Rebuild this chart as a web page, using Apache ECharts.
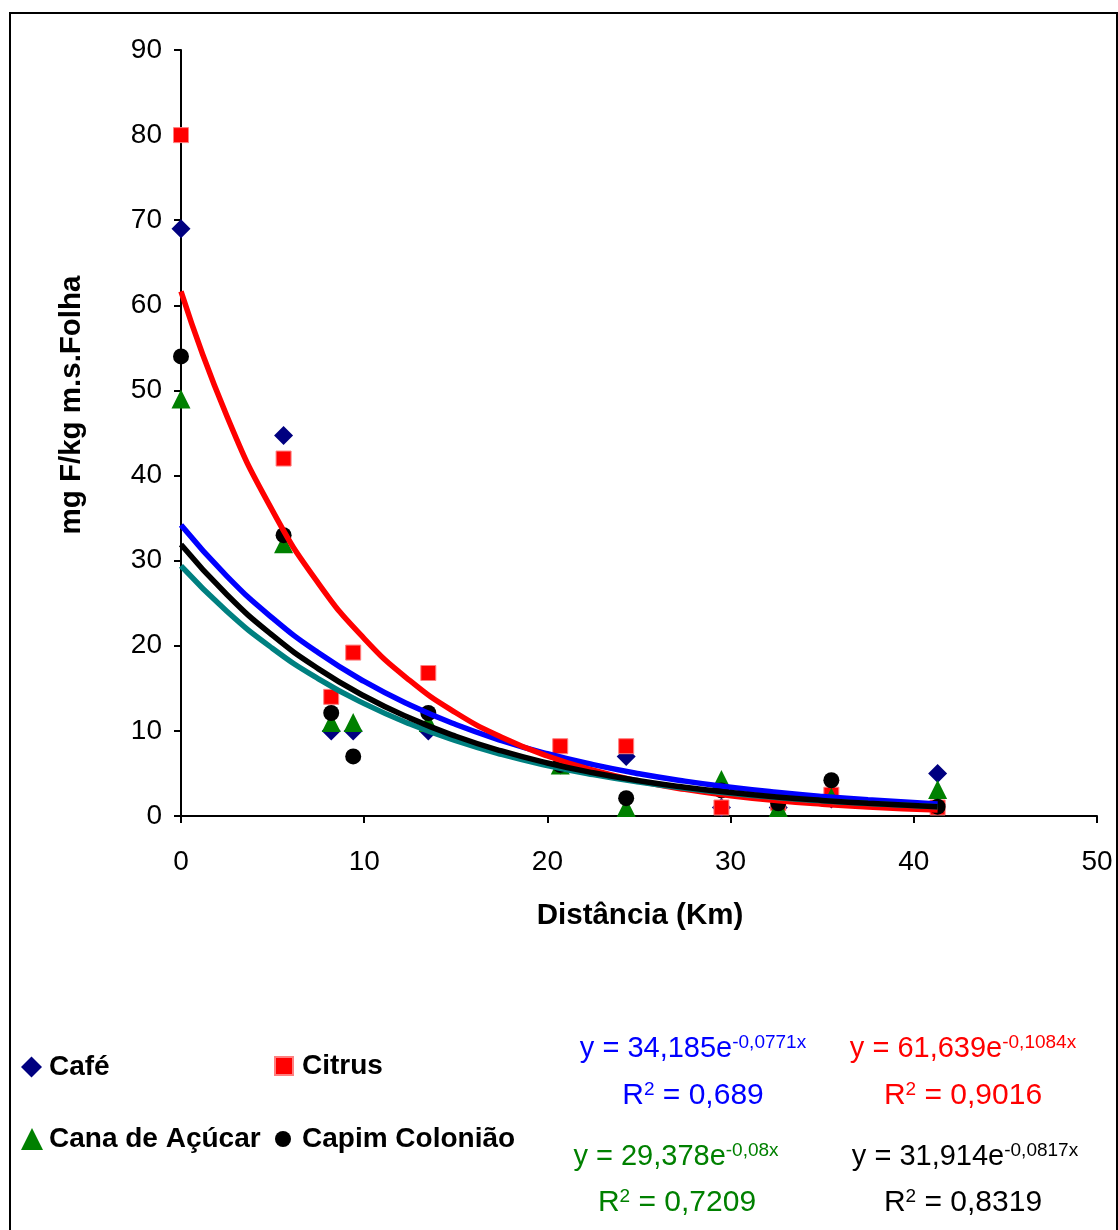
<!DOCTYPE html>
<html>
<head>
<meta charset="utf-8">
<script src="https://cdn.jsdelivr.net/npm/echarts@6/dist/echarts.min.js"></script>
<style>
html,body{margin:0;padding:0;background:#fff;}
#chart{width:1118px;height:1230px;}
</style>
</head>
<body>
<div id="chart"></div>
<script>
// ---- Data ----
const distX = [0, 5.6, 8.2, 9.4, 13.5, 20.7, 24.3, 29.5, 32.6, 35.5, 41.3];
const cafeY   = [69, 44.7, 10, 10, 10, 6, 7, 1, 1, 2, 5];
const citrusY = [80, 42, 14, 19.2, 16.8, 8.2, 8.2, 1, 1.5, 2.5, 1];
const canaY   = [49, 32, 11, 11, 11, 6, 1, 4.3, 1, 2.2, 3.1];
const capimY  = [54, 33, 12.1, 7, 12.1, 6, 2.1, 3, 1.5, 4.2, 1.1];

// trend lines
const trendX = [0, 2.5, 5, 7.5, 10, 12.5, 15, 17.5, 20, 22.5, 25, 27.5, 30, 32.5, 35, 37.5, 41.3];
const cafeTrend   = [34.19, 28.19, 23.25, 19.17, 15.81, 13.04, 10.75, 8.87, 7.31, 6.03, 4.97, 4.10, 3.38, 2.79, 2.30, 1.90, 1.42];
const citrusTrend = [61.64, 47.01, 35.85, 27.34, 20.85, 15.90, 12.13, 9.25, 7.05, 5.38, 4.10, 3.13, 2.39, 1.82, 1.39, 1.06, 0.70];
const canaTrend   = [29.38, 24.05, 19.69, 16.12, 13.20, 10.81, 8.85, 7.24, 5.93, 4.86, 3.98, 3.26, 2.66, 2.18, 1.79, 1.46, 1.08];
const capimTrend  = [31.91, 26.02, 21.21, 17.29, 14.10, 11.50, 9.37, 7.64, 6.23, 5.08, 4.14, 3.38, 2.75, 2.24, 1.83, 1.49, 1.09];

const seriesNames = ['Café', 'Citrus', 'Cana de Açúcar', 'Capim Colonião'];
const xTitle = 'Distância (Km)';
const yTitle = 'mg F/kg m.s.Folha';

const FONT = 'Arial, "Liberation Sans", sans-serif';

function pairs(xs, ys){ return xs.map((x,i)=>[x, ys[i]]); }

const chart = echarts.init(document.getElementById('chart'), null, {renderer:'canvas'});

function lineSeries(name, data, color){
  return {
    name: name, type: 'line', data: pairs(trendX, data),
    smooth: true, showSymbol: false, symbol: 'none',
    lineStyle: {color: color, width: 5.5},
    silent: true
  };
}
function scatterSeries(name, data, symbol, size, color, border){
  return {
    name: name, type: 'scatter', data: pairs(distX, data),
    symbol: symbol, symbolSize: size,
    itemStyle: {color: color, borderColor: border || color, borderWidth: border ? 1 : 0, opacity: 1}
  };
}

function legendItem(name, left, top, size, padLeft){
  return {
    data: [name], left: left, top: top,
    orient: 'horizontal', padding: 0, itemGap: 0, selectedMode: false,
    itemWidth: size, itemHeight: size,
    textStyle: {fontSize: 28, fontWeight: 'bold', color: '#000', fontFamily: FONT, padding: [0, 0, 0, padLeft]}
  };
}

function eqText(x, y, color, main, sup){
  return {
    type: 'text', x: x, y: y,
    style: {
      text: '{m|' + main + '}{s|' + sup + '}',
      align: 'center', verticalAlign: 'middle',
      rich: {
        m: {fontSize: 29, fontFamily: FONT, fill: color, lineHeight: 32},
        s: {fontSize: 19, fontFamily: FONT, fill: color, verticalAlign: 'top', lineHeight: 18}
      }
    }
  };
}
function r2Text(x, y, color, val){
  return {
    type: 'text', x: x, y: y,
    style: {
      text: '{m|R}{s|2}{m| = ' + val + '}',
      align: 'center', verticalAlign: 'middle',
      rich: {
        m: {fontSize: 30, fontFamily: FONT, fill: color, lineHeight: 32},
        s: {fontSize: 19, fontFamily: FONT, fill: color, verticalAlign: 'top', lineHeight: 16}
      }
    }
  };
}

const option = {
  animation: false,
  backgroundColor: '#fff',
  grid: {left: 181, right: 21, top: 50, bottom: 414, containLabel: false},
  xAxis: {
    type: 'value', min: 0, max: 50, interval: 10,
    axisLine: {show: true, onZero: false, lineStyle: {color: '#000', width: 2}},
    axisTick: {show: true, length: 7, lineStyle: {color: '#000', width: 2}},
    axisLabel: {fontSize: 28, color: '#000', fontFamily: FONT, margin: 32},
    splitLine: {show: false}
  },
  yAxis: {
    type: 'value', min: 0, max: 90, interval: 10,
    axisLine: {show: true, onZero: false, lineStyle: {color: '#000', width: 2}},
    axisTick: {show: true, length: 7, lineStyle: {color: '#000', width: 2}},
    axisLabel: {fontSize: 28, color: '#000', fontFamily: FONT, margin: 19},
    splitLine: {show: false}
  },
  legend: [
    legendItem(seriesNames[0], 21, 1053, 21, 2),
    legendItem(seriesNames[1], 274, 1052, 18, 4),
    legendItem(seriesNames[2], 21, 1125, 22, 1),
    legendItem(seriesNames[3], 275, 1125, 16, 6)
  ],
  series: [
    lineSeries('Café trend', cafeTrend, '#0000FF'),
    scatterSeries(seriesNames[0], cafeY, 'diamond', 19, '#000080'),
    lineSeries('Citrus trend', citrusTrend, '#FF0000'),
    scatterSeries(seriesNames[1], citrusY, 'rect', 15, '#FF0000', '#FF8080'),
    lineSeries('Cana trend', canaTrend, '#008080'),
    scatterSeries(seriesNames[2], canaY, 'triangle', 19, '#008000'),
    lineSeries('Capim trend', capimTrend, '#000000'),
    scatterSeries(seriesNames[3], capimY, 'circle', 16, '#000000')
  ],
  graphic: [
    {type: 'rect', shape: {x: 10, y: 13, width: 1107, height: 1230}, style: {fill: 'none', stroke: '#000', lineWidth: 2}, silent: true},
    {type: 'text', x: 640, y: 916, style: {text: xTitle, align: 'center', verticalAlign: 'middle', font: 'bold 29.5px ' + FONT, fill: '#000'}},
    {type: 'text', x: 72, y: 405, rotation: Math.PI / 2, style: {text: yTitle, align: 'center', verticalAlign: 'middle', font: 'bold 29.5px ' + FONT, fill: '#000'}},
    eqText(693, 1049, '#0000FF', 'y = 34,185e', '-0,0771x'),
    r2Text(693, 1096, '#0000FF', '0,689'),
    eqText(963, 1049, '#FF0000', 'y = 61,639e', '-0,1084x'),
    r2Text(963, 1096, '#FF0000', '0,9016'),
    eqText(676, 1157, '#008000', 'y = 29,378e', '-0,08x'),
    r2Text(677, 1203, '#008000', '0,7209'),
    eqText(965, 1157, '#000000', 'y = 31,914e', '-0,0817x'),
    r2Text(963, 1203, '#000000', '0,8319')
  ]
};
chart.setOption(option);
</script>
</body>
</html>
